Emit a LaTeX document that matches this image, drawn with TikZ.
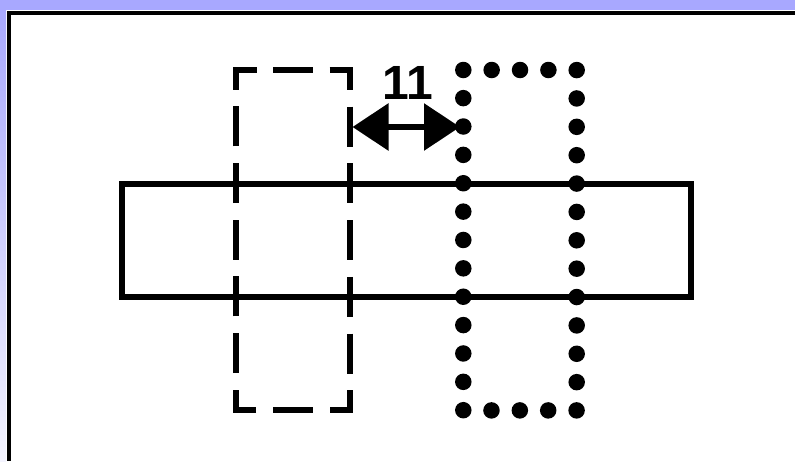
\documentclass[tikz,border=0pt]{standalone}
\usepackage{fontspec}
\setmainfont{Liberation Sans}
\usetikzlibrary{arrows.meta}
\definecolor{bgblue}{RGB}{168,168,255}
\definecolor{bglight}{RGB}{244,244,255}
\tikzset{
  solidbox/.style={draw=black, line width=5.7pt, line join=miter},
  dashbox/.style={draw=black, line width=6pt, line cap=butt, line join=miter,
    dash pattern=on 40pt off 16.7pt, dash phase=20pt},
  dotbox/.style={draw=black, line width=16.5pt, line cap=round,
    dash pattern=on 0pt off 28.37pt},
  dimarrow/.style={line width=6pt, {Triangle[length=36pt,width=46pt]}-{Triangle[length=36pt,width=46pt]}},
  dimlabel/.style={font=\bfseries\fontsize{48}{48}\selectfont, inner sep=0pt}
}
\begin{document}
\begin{tikzpicture}[x=1pt,y=-1pt]
\useasboundingbox (0,0) rectangle (795,461);
% background frame
\fill[white] (0,0) rectangle (795,461);
\fill[bgblue] (0,0) rectangle (795,10);
\shade[top color=bgblue, bottom color=bglight] (0,10) rectangle (6,461);
\fill[black] (7,11) rectangle (795,461);
\fill[white] (11,15) rectangle (795,461);
% long solid rectangle
\draw[solidbox] (122,184.3) rectangle (690.8,297.2);
% dashed rectangle (start at middle of top edge)
\draw[dashbox] (293,70) -- (349.7,70) -- (349.7,410) -- (236.3,410) -- (236.3,70) -- cycle;
% dotted rectangle
\draw[dotbox] (463.3,70) -- (576.7,70) -- (576.7,410.4) -- (463.3,410.4) -- cycle;
% dimension
\coordinate (al) at (352.5,127);
\coordinate (ar) at (460,127);
\draw[dimarrow] (al) -- (ar);
\node[dimlabel] (lbl) at (407.5,82.5) {11};
\end{tikzpicture}
\end{document}
